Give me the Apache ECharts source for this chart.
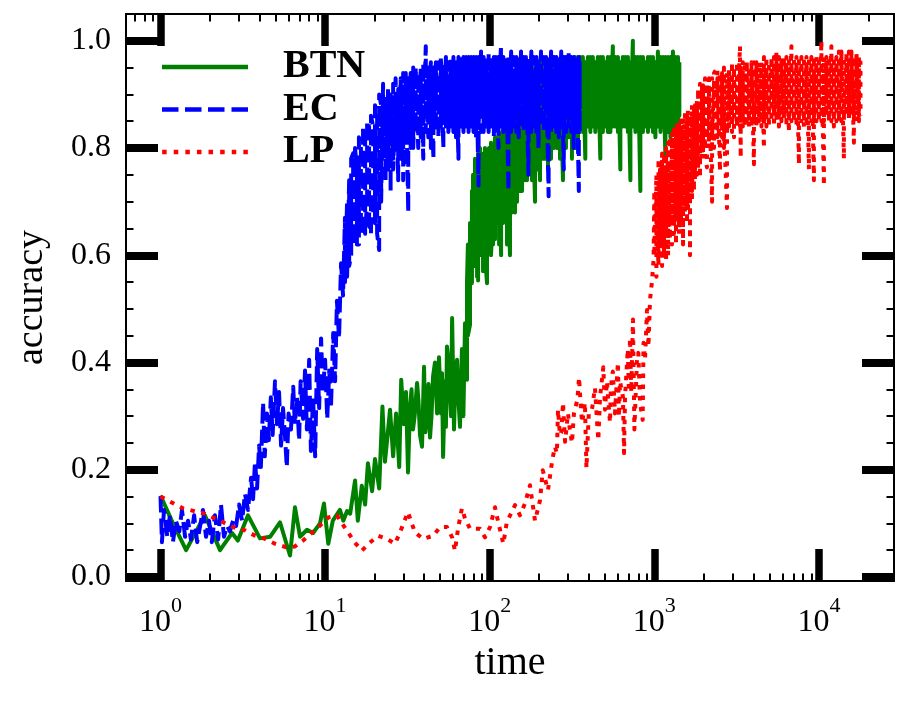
<!DOCTYPE html>
<html><head><meta charset="utf-8">
<script src="https://cdn.jsdelivr.net/npm/echarts@6/dist/echarts.min.js"></script>
<style>html,body{margin:0;padding:0;background:#fff}#c{width:908px;height:706px}</style>
</head><body><div id="c"></div>
<script>
const seriesNames = ['BTN', 'EC', 'LP'];

// sparse parts: [time, accuracy]
const btnPoints = [
[1.0,0.152],[1.17,0.105],[1.43,0.05],[1.86,0.115],[2.3,0.05],[2.72,0.082],[2.95,0.068],[3.4,0.115],[4.02,0.072],[4.63,0.075],
[5.32,0.102],[6.12,0.04],[6.56,0.13],[7.04,0.075],[7.77,0.088],[8.45,0.082],[9.31,0.1],[9.84,0.137],[10.45,0.062],[11.14,0.105],
[12.3,0.125],[12.9,0.105],[13.6,0.123],[14.2,0.118],[15.2,0.18],[15.8,0.105],[16.7,0.17],[17.5,0.135],[18.2,0.212],[19.3,0.16],
[20.1,0.22],[21.3,0.165],[22.3,0.318],[23.1,0.215],[23.8,0.255],[24.8,0.312],[25.9,0.225],[27.0,0.305],[28.2,0.205],[29.0,0.368],
[30.1,0.285],[31.0,0.345],[31.9,0.195],[32.8,0.318],[33.5,0.35],[34.2,0.275],[35.0,0.30],[36.2,0.362],[36.9,0.33],[37.7,0.265],
[38.8,0.243],[39.9,0.392],[40.7,0.27],[41.6,0.305],[42.5,0.36],[43.4,0.26],[44.3,0.30],[45.3,0.375],[46.5,0.4],[47.9,0.305],
[48.5,0.36],[49.2,0.41],[50.6,0.305],[51.3,0.38],[52.1,0.224],[53.5,0.365],[54.2,0.28],[55.0,0.43],[56.2,0.40],[57.4,0.335],
[58.2,0.30],[59.1,0.483],[60.7,0.275],[61.9,0.37],[63.3,0.405],[64.6,0.33],[66.0,0.28],[67.8,0.425],[69.2,0.30]
];
// dense parts: [time, accuracy, accuracy, ...]
const btnRows = [
[70.8,0.473,0.40],[72.8,0.368,0.55],[73.7,0.62,0.45],[75.9,0.47,0.66],[78.0,0.548,0.72],[79.2,0.60,0.75],
[81.4,0.58,0.78,0.62],[83.8,0.76,0.56,0.74],[85.0,0.553,0.79],[87.3,0.80,0.60,0.76],[89.9,0.60,0.78,0.64],
[91.1,0.74,0.57,0.79],[93.6,0.63,0.80,0.60],[96.3,0.548,0.78,0.66],[99.0,0.80,0.62,0.78],[101.8,0.65,0.81,0.60],
[104.8,0.68,0.79,0.62],[107.7,0.82,0.63,0.80],[110.9,0.66,0.82,0.70],[114.0,0.80,0.62,0.83],[117.3,0.60,0.82,0.68],
[120.7,0.84,0.66,0.82],[123.9,0.70,0.85,0.68],[127.4,0.86,0.62,0.84],[132.8,0.60,0.86,0.70],[136.5,0.87,0.68,0.85],
[142.5,0.68,0.88,0.72],[146.6,0.89,0.70,0.86],[152.8,0.72,0.90,0.74],[157.2,0.91,0.72,0.88],[163.8,0.74,0.92,0.76],
[168.5,0.93,0.74,0.90],[175.7,0.76,0.94,0.78],[180.7,0.94,0.74,0.92],[188.5,0.70,0.95,0.78],[194.0,0.95,0.76,0.93],
[202.2,0.74,0.96,0.80],[208.0,0.96,0.78,0.94],[216.8,0.78,0.96,0.80],[226.0,0.96,0.76,0.94],[235.7,0.78,0.96,0.82],
[245.7,0.97,0.80,0.95],[256.2,0.80,0.96,0.82],[267.4,0.96,0.78,0.95],[278.7,0.74,0.97,0.82],[290.6,0.97,0.80,0.95],
[303.0,0.82,0.96,0.84],[316.0,0.96,0.78,0.95],[329.8,0.80,0.97,0.83],[343.8,0.97,0.80,0.95],
[355,0.84,0.97,0.86],[368,0.96,0.83,0.97],[381,0.78,0.96,0.85],[395,0.97,0.84,0.96],[409,0.83,0.97,0.85],
[423,0.96,0.84,0.97],[438,0.85,0.96,0.83],[454,0.97,0.84,0.96],[470,0.78,0.97,0.85],[487,0.96,0.83,0.97],
[504,0.84,0.96,0.85],[522,0.97,0.83,0.96],[541,0.83,0.97,0.84],[560,0.99,0.84,0.96],[580,0.84,0.97,0.85],
[601,0.96,0.83,0.97],[622,0.76,0.96,0.84],[644,0.97,0.84,0.96],[667,0.84,0.97,0.85],[691,0.96,0.83,0.97],
[716,0.74,0.96,0.84],[741,1.0,0.84,0.97],[768,0.84,0.97,0.83],[795,0.97,0.84,0.96],[823,0.72,0.97,0.85],
[853,0.96,0.83,0.97],[883,0.84,0.96,0.85],[915,0.97,0.83,0.96],[947,0.84,0.97,0.85],[981,0.96,0.83,0.97],
[1016,0.82,0.96,0.84],[1052,0.98,0.84,0.96],[1090,0.84,0.97,0.83],[1129,0.97,0.84,0.96],[1169,0.78,0.97,0.85],
[1210,0.96,0.83,0.97],[1254,0.82,0.97,0.84],[1298,0.98,0.84,0.96],[1345,0.84,0.97,0.85],[1393,0.97,0.84,0.96],
[1420,0.86,0.96]
];

const ecPoints = [
[1.0,0.15],[1.02,0.065],[1.05,0.125],[1.1,0.075],[1.14,0.115],[1.19,0.065],[1.24,0.105],[1.3,0.085],[1.35,0.125],[1.41,0.075],
[1.47,0.105],[1.53,0.07],[1.6,0.115],[1.67,0.065],[1.74,0.095],[1.81,0.125],[1.89,0.075],[1.97,0.105],[2.05,0.065],[2.14,0.115],
[2.24,0.07],[2.33,0.135],[2.43,0.075],[2.54,0.095],[2.64,0.085],[2.76,0.105],[2.88,0.095],[3.0,0.135],[3.13,0.105],[3.26,0.155],
[3.4,0.125],[3.55,0.185],[3.65,0.145],[3.75,0.215],[3.86,0.165],[3.97,0.245],[4.07,0.205],[4.2,0.325],[4.3,0.225],[4.43,0.305],
[4.55,0.255],[4.68,0.335],[4.8,0.265],[4.96,0.365],[5.1,0.285],[5.25,0.345],[5.4,0.245],[5.55,0.315],[5.7,0.265],[5.85,0.205],
[6.0,0.305],[6.2,0.275],[6.4,0.355],[6.55,0.285],[6.75,0.335],[6.95,0.255],[7.1,0.365],[7.35,0.295],[7.55,0.385],[7.75,0.275],
[8.0,0.405],[8.2,0.235],[8.45,0.335],[8.7,0.225],[8.95,0.425],[9.2,0.315],[9.45,0.445],[9.7,0.345],[10.0,0.405],[10.3,0.295],
[10.6,0.385],[10.85,0.315],[11.2,0.455],[11.5,0.365],[11.8,0.515],[12.15,0.445],[12.5,0.585],[12.85,0.525]
];
const ecRows = [
[13.2,0.67,0.55],[13.6,0.70,0.56],[14.0,0.74,0.58],[14.4,0.60,0.78],[14.8,0.79,0.62],[15.2,0.64,0.80],[15.6,0.76,0.62],
[16.05,0.62,0.82],[16.5,0.80,0.64],[17.0,0.66,0.84],[17.5,0.82,0.64],[18.0,0.70,0.85],[18.5,0.84,0.66],[19.0,0.64,0.86],
[19.6,0.84,0.68],[20.1,0.66,0.88],[20.7,0.86,0.64],[21.3,0.61,0.90],[21.9,0.88,0.70],
[22.5,0.70,0.92,0.78],[23.3,0.90,0.74,0.88],[24.1,0.76,0.91,0.80],[25.0,0.89,0.72,0.90],[25.9,0.78,0.92,0.76],
[26.8,0.90,0.80,0.93],[27.8,0.74,0.91,0.82],[28.8,0.93,0.78,0.90],[29.8,0.80,0.94,0.74],[30.9,0.92,0.81,0.94],
[32.0,0.68,0.93,0.82],[33.1,0.94,0.80,0.92],[34.3,0.82,0.95,0.80],[35.5,0.93,0.83,0.95],[36.8,0.80,0.94,0.84],
[38.1,0.95,0.82,0.93],[39.5,0.78,0.96,0.84],[40.9,0.99,0.83,0.95],[42.4,0.82,0.95,0.85],[43.9,0.96,0.80,0.94],
[45.5,0.78,0.95,0.84],[47.1,0.96,0.83,0.95],[48.8,0.84,0.96,0.82],[50.5,0.95,0.84,0.97],[52.3,0.80,0.96,0.85],
[54.2,0.97,0.84,0.95],[56.1,0.85,0.96,0.83],[58.1,0.96,0.84,0.97],[60.2,0.83,0.97,0.85],[62.4,0.96,0.82,0.95],
[64.6,0.78,0.97,0.84],[66.9,0.97,0.84,0.96],[69.3,0.83,0.97,0.85],[71.8,0.96,0.84,0.97],[74.4,0.85,0.97,0.83],
[77.0,0.97,0.84,0.96],[79.8,0.83,0.97,0.85],[82.6,0.96,0.82,0.97],[85.6,0.73,0.97,0.84],[88.6,0.98,0.83,0.96],
[91.8,0.85,0.97,0.83],[95.1,0.97,0.84,0.96],[98.5,0.83,0.98,0.85],[102,0.97,0.84,0.96],[106,0.84,0.97,0.82],
[109,0.96,0.84,0.97],[113,0.80,0.97,0.85],[117,0.99,0.84,0.96],[121,0.85,0.97,0.83],[126,0.97,0.84,0.96],
[130,0.72,0.97,0.84],[135,0.98,0.83,0.96],[140,0.84,0.97,0.85],[145,0.96,0.83,0.97],[150,0.82,0.97,0.84],
[155,0.98,0.84,0.96],[161,0.85,0.97,0.83],[166,0.97,0.84,0.96],[172,0.75,0.97,0.84],[179,0.98,0.83,0.96],
[185,0.84,0.97,0.85],[192,0.96,0.83,0.97],[198,0.80,0.97,0.84],[205,0.98,0.84,0.96],[213,0.85,0.97,0.83],
[220,0.97,0.84,0.96],[228,0.71,0.97,0.84],[236,0.98,0.83,0.96],[245,0.84,0.97,0.85],[254,0.96,0.83,0.97],
[263,0.82,0.97,0.84],[272,0.98,0.84,0.96],[282,0.76,0.97,0.84],[292,0.97,0.83,0.96],[302,0.84,0.98,0.85],
[313,0.97,0.83,0.96],[324,0.80,0.97,0.84],[336,0.97,0.83,0.96],[348,0.72,0.97,0.84],[352,0.96,0.83,0.95]
];

const lpPoints = [
[1.0,0.15],[1.37,0.128],[1.86,0.118],[2.4,0.102],[2.76,0.093],[3.26,0.087],[3.75,0.077],[4.32,0.071],[4.96,0.062],[5.85,0.055],
[6.56,0.057],[7.35,0.068],[8.33,0.083],[9.31,0.096],[10.45,0.111],[11.8,0.115],[12.65,0.1],[13.8,0.083],[15.2,0.064],[16.7,0.049],
[18.7,0.064],[21.0,0.077],[23.8,0.071],[26.6,0.062],[28.5,0.083],[30.1,0.102],[31.9,0.121],[33.6,0.1],[35.2,0.083],[39.4,0.071],
[45.3,0.077],[49.9,0.093],[55.0,0.093],[59.1,0.074],[61.5,0.049],[64.2,0.09],[67.8,0.128],[70.8,0.109],[75.9,0.09],[81.4,0.09],
[87.3,0.09],[93.6,0.074],[100.4,0.093],[107.7,0.13],[111,0.111],[121,0.062],[127,0.102],[142.5,0.134],[152.8,0.115],[163.8,0.137],
[175.7,0.171],[188.5,0.105],[202.2,0.143],[210,0.199],[226,0.162],[240,0.218],[249,0.243],[256,0.231],[260,0.312],[267,0.265],
[272,0.269],[279,0.325],[287,0.252],[299,0.305],[307,0.275],[316,0.25],[325,0.305],[341,0.331],[349,0.372],[360,0.305],
[365,0.288],[379,0.325],[387,0.203],[400,0.305],[418,0.312],[436,0.353],[450,0.285],[457,0.255],[468,0.335],[490,0.391],
[502,0.312],[515,0.365],[538,0.288],[545,0.355],[560,0.383],[577,0.305],[601,0.4],[610,0.299],[619,0.365],[645,0.336],
[655,0.231],[664,0.335],[690,0.425],[700,0.355],[712,0.445],[725,0.345],[742,0.48],[757,0.275],[785,0.405],[800,0.418],
[819,0.325],[850,0.293],[860,0.437],[878,0.405],[903,0.498],[921,0.43],[942,0.517],[970,0.554],[990,0.592]
];
const lpRows = [
[1000,0.59,0.72,0.60],[1030,0.75,0.56,0.70],[1060,0.58,0.78,0.62],[1083,0.76,0.60,0.74],[1115,0.62,0.79,0.58],
[1145,0.78,0.60,0.76],[1180,0.59,0.80,0.64],[1213,0.81,0.60,0.76],[1245,0.63,0.82,0.66],[1280,0.80,0.62,0.83],
[1317,0.66,0.84,0.64],[1355,0.82,0.62,0.84],[1375,0.68,0.85,0.66],[1413,0.83,0.64,0.85],[1455,0.66,0.86,0.70],
[1495,0.84,0.62,0.86],[1536,0.68,0.87,0.70],[1580,0.85,0.66,0.86],[1600,0.70,0.87,0.68],[1648,0.86,0.60,0.85],
[1694,0.70,0.88,0.72],[1742,0.86,0.72,0.87],[1767,0.74,0.88,0.76],[1817,0.89,0.75,0.87],
[1845,0.76,0.91,0.78],[1895,0.90,0.745,0.92],[1950,0.78,0.92,0.80],[1977,0.917,0.79,0.90],[2033,0.80,0.93,0.78],
[2090,0.764,0.92,0.82],[2150,0.93,0.80,0.91],[2244,0.70,0.93,0.82],[2307,0.92,0.80,0.94],[2418,0.95,0.82,0.93],
[2507,0.757,0.94,0.84],[2580,0.93,0.82,0.94],[2650,0.80,0.95,0.84],[2765,0.688,0.94,0.83],[2845,0.95,0.84,0.93],
[2966,0.83,0.96,0.85],[3050,0.95,0.82,0.94],[3178,0.84,0.96,0.85],[3317,0.99,0.84,0.95],[3350,0.782,0.95,0.85],
[3450,0.96,0.84,0.94],[3545,0.85,0.96,0.84],[3650,0.964,0.85,0.95],
[3760,0.84,0.95,0.86],[3894,0.96,0.84,0.95],[4032,0.77,0.96,0.85],[4176,0.96,0.84,0.95],[4324,0.85,0.96,0.86],
[4478,0.95,0.84,0.96],[4637,0.80,0.97,0.85],[4802,0.97,0.84,0.95],[4973,0.84,0.96,0.86],[5150,0.96,0.85,0.97],
[5333,0.86,0.97,0.84],[5523,0.98,0.85,0.96],[5719,0.84,0.97,0.86],[5923,0.96,0.85,0.97],[6133,0.85,0.97,0.86],
[6352,0.97,0.84,0.96],[6577,0.83,0.97,0.85],[6811,0.99,0.85,0.96],[7054,0.85,0.97,0.86],[7305,0.96,0.84,0.97],
[7565,0.77,0.97,0.85],[7834,0.97,0.85,0.96],[8112,0.84,0.97,0.86],[8401,0.96,0.85,0.97],[8700,0.76,0.97,0.86],
[9009,0.97,0.85,0.96],[9329,0.74,0.97,0.85],[9661,0.96,0.85,0.97],[10005,0.85,0.97,0.86],[10361,1.0,0.85,0.96],
[10730,0.73,0.97,0.85],[11111,0.97,0.86,0.96],[11507,0.86,0.97,0.85],[11916,0.99,0.85,0.97],[12340,0.84,0.97,0.86],
[12779,0.97,0.85,0.96],[13234,0.85,0.98,0.86],[13705,0.98,0.85,0.97],[14193,0.78,0.97,0.86],[14698,0.97,0.86,0.98],
[15221,0.86,0.98,0.85],[15763,0.98,0.86,0.97],[16324,0.81,0.97,0.86],[16905,0.97,0.85,0.98],[17507,0.85,0.97,0.86],
[17900,0.96,0.86]
];

const xMajorTicks = [1, 10, 100, 1000, 10000];
const xMinorTicks = [0.7,0.8,0.9,2,3,4,5,6,7,8,9,20,30,40,50,60,70,80,90,200,300,400,500,600,700,800,900,2000,3000,4000,5000,6000,7000,8000,9000,20000];
const yMajorTicks = [0, 0.2, 0.4, 0.6, 0.8, 1.0];
const yMinorTicks = [0.05,0.1,0.15,0.25,0.3,0.35,0.45,0.5,0.55,0.65,0.7,0.75,0.85,0.9,0.95];

function rowsToPoints(rows) {
  const out = [];
  rows.forEach(function (r) { for (let i = 1; i < r.length; i++) out.push([r[0], r[i]]); });
  return out;
}

const FONT = '"Liberation Serif", "Times New Roman", serif';
const X_MIN = 0.617, X_MAX = 28600, Y_MIN = -0.0075, Y_MAX = 1.05;

function xAxis(pos, ticks, len, w, withLabel) {
  const a = {
    type: 'log', logBase: 10, position: pos, min: X_MIN, max: X_MAX, gridIndex: 0,
    axisLine: { show: true, onZero: false, lineStyle: { color: '#000', width: 2 } },
    axisTick: { show: true, inside: true, length: len, customValues: ticks, lineStyle: { color: '#000', width: w } },
    axisLabel: { show: false },
    splitLine: { show: false }, minorTick: { show: false }, minorSplitLine: { show: false }
  };
  if (withLabel) {
    a.axisLabel = {
      show: true, customValues: ticks, margin: 14,
      formatter: function (v) { return '{b|10}{s|' + Math.round(Math.log10(v)) + '}'; },
      rich: {
        b: { fontFamily: FONT, fontSize: 32, lineHeight: 44, verticalAlign: 'bottom', color: '#000' },
        s: { fontFamily: FONT, fontSize: 22, lineHeight: 22, verticalAlign: 'top', color: '#000' }
      }
    };
    a.name = 'time'; a.nameLocation = 'middle'; a.nameGap = 62;
    a.nameTextStyle = { fontFamily: FONT, fontSize: 40, color: '#000' };
  }
  return a;
}
function yAxis(pos, ticks, len, w, withLabel) {
  const a = {
    type: 'value', position: pos, min: Y_MIN, max: Y_MAX, gridIndex: 0,
    axisLine: { show: true, onZero: false, lineStyle: { color: '#000', width: 2 } },
    axisTick: { show: true, inside: true, length: len, customValues: ticks, lineStyle: { color: '#000', width: w } },
    axisLabel: { show: false },
    splitLine: { show: false }, minorTick: { show: false }
  };
  if (withLabel) {
    a.axisLabel = {
      show: true, customValues: ticks, margin: 15,
      fontFamily: FONT, fontSize: 32, color: '#000',
      formatter: function (v) { return v.toFixed(1); }
    };
    a.name = 'accuracy'; a.nameLocation = 'middle'; a.nameGap = 75;
    a.nameTextStyle = { fontFamily: FONT, fontSize: 38, color: '#000' };
  }
  return a;
}

const styles = {
  BTN: { color: '#008000', type: 'solid', icon: 'path://M0,0H86V4.5H0Z' },
  EC: { color: '#0000ff', type: [16, 6], icon: 'path://M0,0H16.5V4.5H0Z M23,0H39.5V4.5H23Z M46,0H62.5V4.5H46Z M69.5,0H86V4.5H69.5Z' },
  LP: { color: '#ff0000', type: [4.5, 6.5], icon: 'path://M0,0H4.5V4.5H0Z M11.6,0H16.1V4.5H11.6Z M23.2,0H27.7V4.5H23.2Z M34.8,0H39.3V4.5H34.8Z M46.4,0H50.9V4.5H46.4Z M58,0H62.5V4.5H58Z M69.6,0H74.1V4.5H69.6Z M81.2,0H85.7V4.5H81.2Z' }
};
const dataByName = {
  BTN: btnPoints.concat(rowsToPoints(btnRows)),
  EC: ecPoints.concat(rowsToPoints(ecRows)),
  LP: lpPoints.concat(rowsToPoints(lpRows))
};

const chart = echarts.init(document.getElementById('c'), null, { renderer: 'canvas' });
chart.setOption({
  animation: false,
  backgroundColor: '#fff',
  grid: { left: 126, top: 14, width: 768, height: 567, containLabel: false },
  xAxis: [
    xAxis('bottom', xMajorTicks, 32, 7.5, true),
    xAxis('bottom', xMinorTicks, 7.5, 2, false),
    xAxis('top', xMajorTicks, 32, 7.5, false),
    xAxis('top', xMinorTicks, 7.5, 2, false)
  ],
  yAxis: [
    yAxis('left', yMajorTicks, 32, 8, true),
    yAxis('left', yMinorTicks, 7.5, 2, false),
    yAxis('right', yMajorTicks, 32, 8, false),
    yAxis('right', yMinorTicks, 7.5, 2, false)
  ],
  legend: {
    orient: 'vertical', left: 162, top: 46, padding: 0, itemGap: 0.5,
    itemWidth: 86, itemHeight: 4.5, selectedMode: false,
    itemStyle: { borderWidth: 0 },
    textStyle: { fontFamily: FONT, fontSize: 40, fontWeight: 'bold', color: '#000', lineHeight: 42, padding: [0, 0, 0, 30] },
    data: seriesNames.map(n => ({ name: n, icon: styles[n].icon }))
  },
  series: seriesNames.map(n => ({
    type: 'line', name: n, xAxisIndex: 0, yAxisIndex: 0,
    data: dataByName[n], symbol: 'none', showSymbol: false, sampling: null,
    itemStyle: { color: styles[n].color },
    lineStyle: { color: styles[n].color, width: 4, type: styles[n].type, cap: 'butt', join: 'round' },
    emphasis: { disabled: true }
  }))
});
</script></body></html>
